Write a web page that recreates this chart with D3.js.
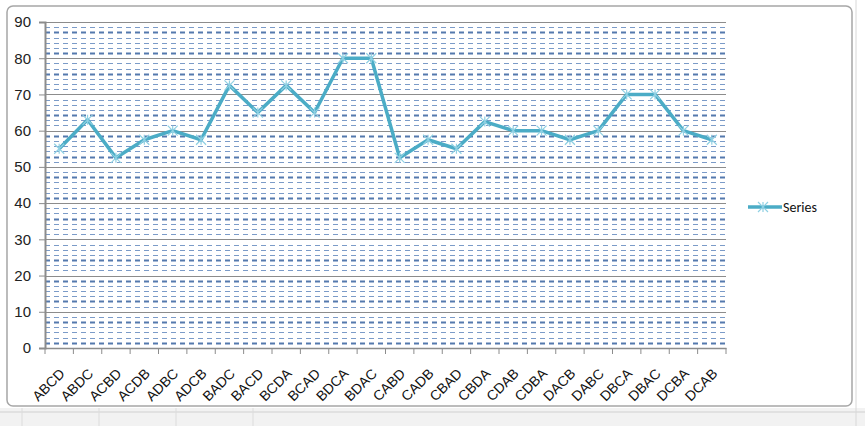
<!DOCTYPE html>
<html>
<head>
<meta charset="utf-8">
<script src="https://cdn.jsdelivr.net/npm/d3@7"></script>
<style>
  body { margin: 0; background: #fff; }
  svg { display: block; font-family: Calibri, Carlito, "Liberation Sans", sans-serif; }
</style>
</head>
<body>
<svg width="865" height="426"></svg>
<script>
const categories = ["ABCD", "ABDC", "ACBD", "ACDB", "ADBC", "ADCB", "BADC", "BACD",
    "BCDA", "BCAD", "BDCA", "BDAC", "CABD", "CADB", "CBAD", "CBDA",
    "CDAB", "CDBA", "DACB", "DABC", "DBCA", "DBAC", "DCBA", "DCAB"];
const values = [55, 63, 52.5, 57.5, 60, 57.5, 72.5, 65,
    72.5, 65, 80, 80, 52.5, 57.5, 55, 62.5,
    60, 60, 57.5, 60, 70, 70, 60, 57.5];
const yTicks = [0, 10, 20, 30, 40, 50, 60, 70, 80, 90];
const seriesName = "Series";

const svg = d3.select("svg");
const plotLeft = 45, plotRight = 726, plotTop = 22, plotBottom = 348;

// sheet behind the chart
svg.append("rect").attr("x", 0).attr("y", 0).attr("width", 865).attr("height", 426).attr("fill", "#fff");
svg.append("rect").attr("x", 0).attr("y", 408).attr("width", 865).attr("height", 18).attr("fill", "#f2f2f2");
svg.append("line").attr("x1", 0).attr("x2", 865).attr("y1", 412).attr("y2", 412).attr("stroke", "#d0d0d0");
[22, 99, 176, 253].forEach(xx => svg.append("line").attr("x1", xx).attr("x2", xx)
    .attr("y1", 408).attr("y2", 426).attr("stroke", "#dcdcdc"));
svg.append("line").attr("x1", 856).attr("x2", 856).attr("y1", 0).attr("y2", 426).attr("stroke", "#d8d8d8");

// chart frame
svg.append("rect").attr("x", 7).attr("y", 6).attr("width", 845).attr("height", 400)
    .attr("rx", 6).attr("fill", "#fff").attr("stroke", "#a6a6a6").attr("stroke-width", 1.5);

const x = d3.scaleBand().domain(categories).range([plotLeft, plotRight]);
const y = d3.scaleLinear().domain([0, 90]).range([plotBottom, plotTop]);

const g = svg.append("g");

// minor dashed gridlines
const minor = [];
for (let i = 1; i < 63; i++) {
    const v = i * 10 / 7;
    if (Math.abs(v - Math.round(v / 10) * 10) < 0.01) continue;
    minor.push({ v: v, thick: i % 4 === 1 });
}
g.selectAll(".minor")
    .data(minor)
    .enter().append("line")
    .attr("class", "minor")
    .attr("x1", plotLeft).attr("x2", plotRight)
    .attr("y1", d => Math.round(y(d.v)) + 0.5)
    .attr("y2", d => Math.round(y(d.v)) + 0.5)
    .attr("stroke", d => d.thick ? "#5479ad" : "#7b9bc8")
    .attr("stroke-width", d => d.thick ? 2 : 1)
    .attr("stroke-dasharray", "5,4");

// major gridlines
g.selectAll(".major")
    .data(yTicks.slice(1))
    .enter().append("line")
    .attr("class", "major")
    .attr("x1", plotLeft).attr("x2", plotRight)
    .attr("y1", d => Math.round(y(d)) + 0.5)
    .attr("y2", d => Math.round(y(d)) + 0.5)
    .attr("stroke", "#8c8c8c")
    .attr("stroke-width", 1);

// y axis
const yAxis = g.append("g")
    .attr("transform", `translate(${plotLeft},0)`)
    .call(d3.axisLeft(y).tickValues(yTicks).tickSize(6).tickPadding(8));
yAxis.select(".domain").attr("stroke", "#8c8c8c").attr("stroke-width", 2);
yAxis.selectAll(".tick line").attr("stroke", "#8c8c8c");
yAxis.selectAll("text").attr("font-size", 15).attr("fill", "#222");

// x axis
const xAxis = g.append("g")
    .attr("transform", `translate(0,${plotBottom})`)
    .call(d3.axisBottom(x).tickSize(0).tickPadding(0));
xAxis.select(".domain").attr("stroke", "#8c8c8c").attr("stroke-width", 1.5);
xAxis.selectAll("text")
    .attr("font-size", 14).attr("fill", "#111")
    .attr("text-anchor", "end")
    .attr("dy", "0.35em")
    .attr("transform", "translate(3,23) rotate(-45)");
g.selectAll(".xtick")
    .data(categories.concat([null]))
    .enter().append("line")
    .attr("class", "xtick")
    .attr("x1", (d, i) => plotLeft + i * x.step()).attr("x2", (d, i) => plotLeft + i * x.step())
    .attr("y1", plotBottom).attr("y2", plotBottom + 6)
    .attr("stroke", "#8c8c8c");

// series line
const px = d => x(d) + x.bandwidth() / 2;
const line = d3.line().x((d, i) => px(categories[i])).y(d => y(d));
g.append("path")
    .datum(values)
    .attr("d", line)
    .attr("fill", "none")
    .attr("stroke", "#4bacc6")
    .attr("stroke-width", 3.5)
    .attr("stroke-linejoin", "round");

function star(sel) {
    sel.append("path")
        .attr("d", "M-5,-5L5,5M-5,5L5,-5M0,-5L0,5")
        .attr("stroke", "#8fd0e3")
        .attr("stroke-width", 1.2);
}
g.selectAll(".mark")
    .data(values)
    .enter().append("g")
    .attr("class", "mark")
    .attr("transform", (d, i) => `translate(${px(categories[i])},${y(d)})`)
    .call(star);

// legend
const lg = svg.append("g").attr("transform", "translate(748,207)");
lg.append("line").attr("x1", 0).attr("x2", 34).attr("y1", 0).attr("y2", 0)
    .attr("stroke", "#4bacc6").attr("stroke-width", 3.5);
lg.append("g").attr("transform", "translate(15,0)").call(star);
lg.append("text").attr("x", 35).attr("y", 0).attr("dy", "0.35em")
    .attr("font-size", 14).attr("fill", "#111").text(seriesName);
</script>
</body>
</html>
